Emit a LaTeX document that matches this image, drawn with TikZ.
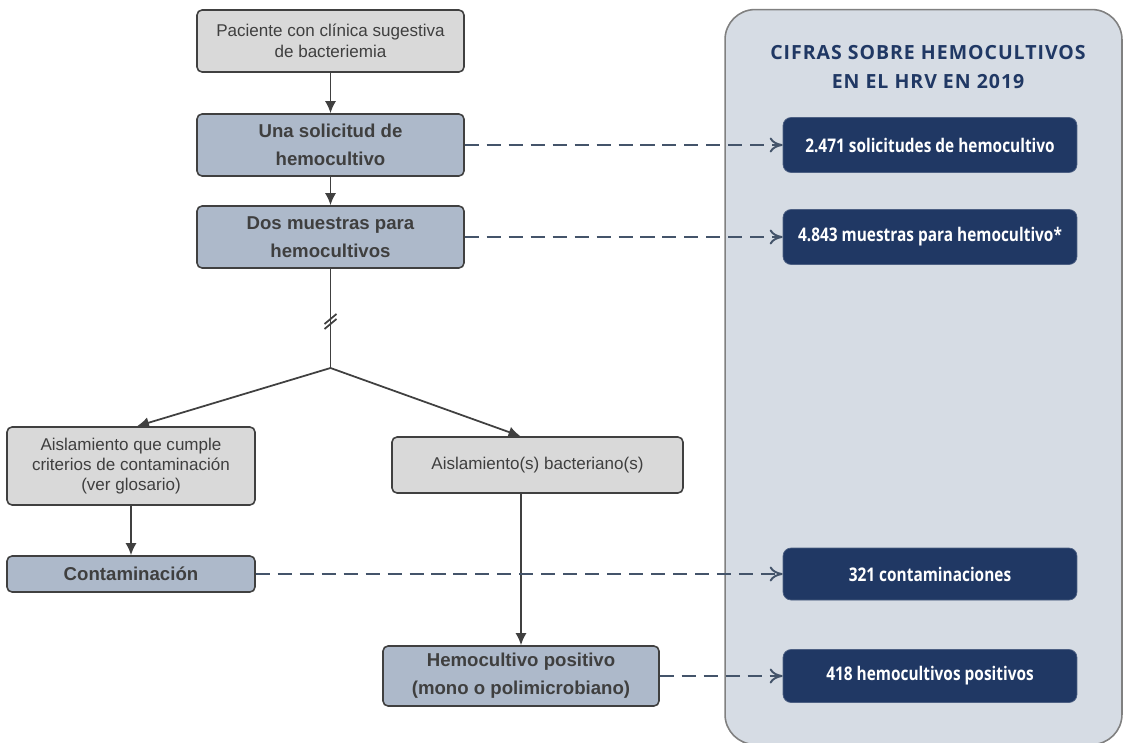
\documentclass[tikz,border=0pt]{standalone}
\usepackage{fontspec}
\setmainfont{Liberation Sans}
\newfontfamily\cifrasfont[FakeStretch=0.82]{Open Sans}
\newfontfamily\titlefont[LetterSpace=5]{Open Sans}
\usepackage{tikz}
\usetikzlibrary{shapes.geometric, arrows, arrows.meta, positioning}
\definecolor{boxgray}{HTML}{D9D9D9}
\definecolor{boxblue}{HTML}{ADB9CA}
\definecolor{edgegray}{HTML}{404040}
\definecolor{textgray}{HTML}{3F3F3F}
\definecolor{panelfill}{HTML}{D6DCE4}
\definecolor{paneledge}{HTML}{808080}
\definecolor{navy}{HTML}{203864}
\definecolor{dashcol}{HTML}{44546A}
\tikzstyle{step box} = [rectangle, rounded corners=0.1cm, draw=edgegray, line width=0.9pt, align=center, text=textgray, font=\fontsize{9.7}{11.6}\selectfont]
\tikzstyle{graybox} = [step box, fill=boxgray]
\tikzstyle{bluebox} = [step box, fill=boxblue, font=\fontsize{10.6}{16}\selectfont\bfseries]
\tikzstyle{darkbox} = [rectangle, rounded corners=0.16cm, draw=navy!80!white, fill=navy, text=white, minimum width=5.88cm, minimum height=1.1cm, font=\cifrasfont\fontsize{10.7}{13}\selectfont\bfseries]
\tikzstyle{arrow} = [line width=1pt, draw=edgegray, -{Latex[length=2.4mm, width=2.2mm]}]
\tikzstyle{dasharrow} = [line width=1.1pt, draw=dashcol, dash pattern=on 8pt off 4.5pt, -{To[length=2.6mm, width=3mm]}]

\begin{document}
\begin{tikzpicture}[x=0.02cm, y=-0.02cm]
\useasboundingbox (0,0) rectangle (1125,743);
% panel with the figures
\node (panel) [rectangle, rounded corners=0.6cm, draw=paneledge, line width=0.9pt, fill=panelfill, minimum width=7.94cm, minimum height=14.7cm] at (923.5,377) {};
\node (titulo) [align=center, text=navy, font=\titlefont\fontsize{11.1}{16}\selectfont\bfseries] at (928,67) {CIFRAS SOBRE HEMOCULTIVOS\\EN EL HRV EN 2019};
% flow nodes
\node (paciente) [graybox, minimum width=5.34cm, minimum height=1.24cm] at (330.5,41) {Paciente con clínica sugestiva\\de bacteriemia};
\node (solicitud) [bluebox, minimum width=5.34cm, minimum height=1.24cm] at (330.5,145) {Una solicitud de\\hemocultivo};
\node (muestras) [bluebox, minimum width=5.34cm, minimum height=1.24cm] at (330.5,237) {Dos muestras para\\hemocultivos};
\coordinate (breakpt) at (330.5,322);
\coordinate (split) at (330.5,368);
\node (criterios) [graybox, minimum width=4.96cm, minimum height=1.56cm] at (131,466) {Aislamiento que cumple\\criterios de contaminación\\(ver glosario)};
\node (bacteriano) [graybox, minimum width=5.82cm, minimum height=1.12cm] at (537.5,465) {Aislamiento(s) bacteriano(s)};
\node (contaminacion) [bluebox, minimum width=4.96cm, minimum height=0.72cm] at (131,574) {Contaminación};
\node (positivo) [bluebox, minimum width=5.52cm, minimum height=1.2cm] at (521,676) {Hemocultivo positivo\\(mono o polimicrobiano)};
% figure nodes
\node (nsolicitud) [darkbox] at (930,145) {2.471 solicitudes de hemocultivo};
\node (nmuestras) [darkbox] at (930,237) {4.843 muestras para hemocultivo*};
\node (ncontam) [darkbox, minimum height=1.04cm] at (930,574) {321 contaminaciones};
\node (npositivo) [darkbox, minimum height=1.06cm] at (930,676) {418 hemocultivos positivos};
% connectors
\draw [arrow] (paciente) -- (solicitud);
\draw [arrow] (solicitud) -- (muestras);
\draw [line width=1pt, draw=edgegray] (muestras) -- (split);
\draw [line width=1pt, draw=edgegray] ([shift={(-6,7)}]breakpt) -- ([shift={(6,-3)}]breakpt);
\draw [line width=1pt, draw=edgegray] ([shift={(-6,2)}]breakpt) -- ([shift={(6,-8)}]breakpt);
\draw [arrow] (split) -- ([xshift=0.12cm]criterios.north);
\draw [arrow] (split) -- ([xshift=-0.34cm]bacteriano.north);
\draw [arrow] (criterios) -- (contaminacion);
\draw [arrow] (bacteriano.south -| positivo.north) -- (positivo.north);
\draw [dasharrow] (solicitud) -- (nsolicitud);
\draw [dasharrow] (muestras) -- (nmuestras);
\draw [dasharrow] (contaminacion) -- (ncontam);
\draw [dasharrow] (positivo) -- (npositivo);
\end{tikzpicture}
\end{document}
